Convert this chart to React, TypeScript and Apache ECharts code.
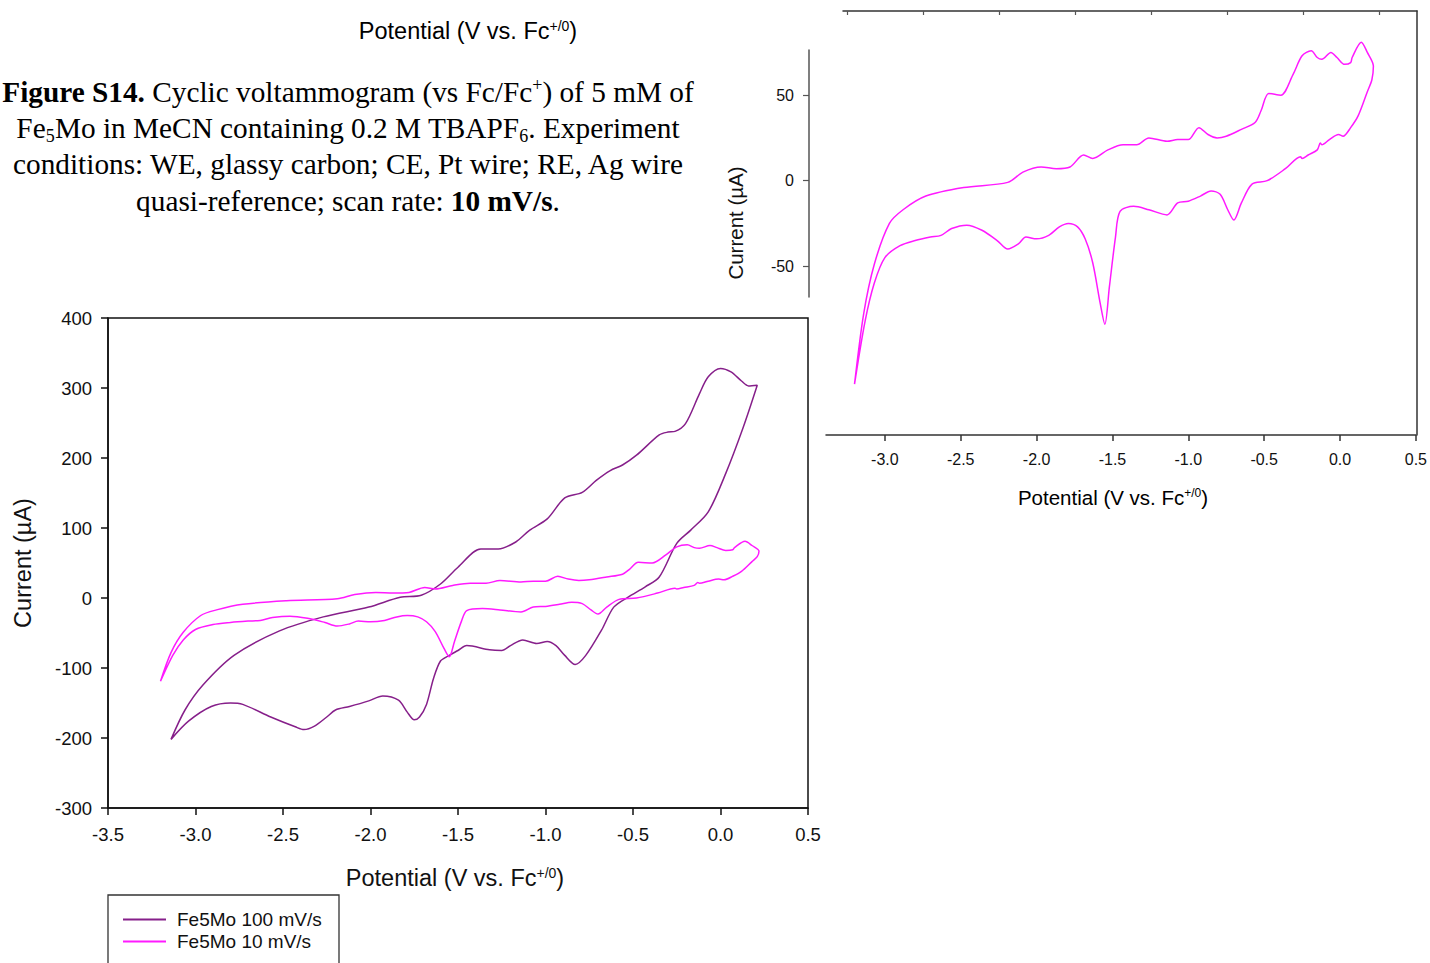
import React, { useEffect, useRef } from "react";
import * as echarts from "echarts";

// ---- Fe5Mo 100 mV/s (closed loop, starting at the cathodic vertex) ----
const p100V = [
  -3.14, -3.06, -2.96, -2.78, -2.52, -2.27, -2.01, -1.83, -1.71, -1.6, -1.5, -1.37, -1.27, -1.17, -1.09, -0.99,
  -0.89, -0.79, -0.71, -0.63, -0.56, -0.48, -0.35, -0.3, -0.26, -0.2, -0.12, -0.07, 0.0, 0.06, 0.12, 0.16, 0.21,
  0.13, 0.03, -0.07, -0.17, -0.25, -0.35, -0.43, -0.53, -0.61, -0.68, -0.77, -0.83, -0.89, -0.94, -0.99, -1.05,
  -1.13, -1.2, -1.25, -1.32, -1.45, -1.5, -1.55, -1.6, -1.64, -1.68, -1.72, -1.75, -1.79, -1.84, -1.93, -2.01,
  -2.12, -2.2, -2.25, -2.32, -2.38, -2.43, -2.57, -2.73, -2.8, -2.91, -3.04, -3.14,
];
const p100I = [
  -202, -160, -125, -82, -47, -27, -13, 1, 4, 20, 44, 70, 70, 80, 97, 113,
  143, 151, 168, 182, 190, 204, 233, 237, 238, 249, 292, 316, 328, 323, 310, 303, 304,
  244, 178, 123, 97, 78, 30, 16, 1, -13, -46, -82, -95, -82, -68, -62, -65,
  -60, -68, -75, -74, -68, -75, -82, -90, -115, -152, -170, -174, -163, -146, -140, -147,
  -155, -160, -170, -183, -188, -184, -170, -152, -150, -155, -176, -202,
];

// ---- Fe5Mo 10 mV/s (closed loop, starting at the cathodic vertex) ----
const p10V = [
  -3.2, -3.14, -3.07, -2.97, -2.88, -2.73, -2.48, -2.19, -2.09, -1.97, -1.87, -1.78, -1.69, -1.63, -1.53, -1.43,
  -1.34, -1.26, -1.14, -1.07, -1.0, -0.93, -0.87, -0.81, -0.75, -0.65, -0.56, -0.52, -0.47, -0.39, -0.31, -0.25,
  -0.19, -0.15, -0.12, -0.06, -0.02, 0.03, 0.07, 0.08, 0.14, 0.18, 0.22,
  0.21, 0.18, 0.12, 0.07, 0.02, -0.01, -0.07, -0.12, -0.13, -0.15, -0.21, -0.25, -0.26, -0.36, -0.48, -0.58,
  -0.65, -0.7, -0.74, -0.79, -0.85, -0.92, -1.0, -1.07, -1.14, -1.26, -1.36, -1.45, -1.48, -1.52, -1.55, -1.58,
  -1.63, -1.68, -1.73, -1.79, -1.85, -1.92, -2.0, -2.07, -2.12, -2.19, -2.26, -2.36, -2.46, -2.56, -2.63, -2.7,
  -2.8, -2.9, -3.0, -3.07, -3.13, -3.2,
];
const p10I = [
  -119, -78, -49, -25, -17, -9, -4, -1, 5, 8, 7, 8, 15, 13, 18, 21,
  21, 25, 23, 24, 24, 31, 27, 25, 26, 30, 34, 41, 51, 50, 62, 73,
  76, 72, 71, 75, 72, 68, 69, 72, 81, 75, 67,
  59, 52, 38, 31, 26, 27, 24, 21, 22, 18, 15, 13, 14, 7, 0, -2,
  -13, -23, -17, -8, -6, -9, -12, -13, -20, -17, -15, -18, -33, -62, -84, -72,
  -48, -34, -27, -25, -27, -32, -34, -33, -37, -40, -35, -29, -26, -28, -32, -33,
  -35, -38, -45, -60, -82, -119,
];

const seriesNames = ["Fe5Mo 100 mV/s", "Fe5Mo 10 mV/s"];
const seriesColors = ["#861f8a", "#ff1aff"];

const mainXTicks = [-3.5, 0.5, 0.5];
const mainYRange = [-300, 400, 100];
const insetXTicks = [-3.0, -2.5, -2.0, -1.5, -1.0, -0.5, 0.0, 0.5];
const insetTopTicks = [-3.25, -2.75, -2.25, -1.75, -1.25, -0.75, -0.25, 0.25];
const insetYTicks = [-50, 0, 50];

const captionLines = [
  "{b|Figure S14.}{r| Cyclic voltammogram (vs Fc/Fc}{sup|+}{r|) of 5 mM of}",
  "{r|Fe}{sub|5}{r|Mo in MeCN containing 0.2 M TBAPF}{sub|6}{r|. Experiment}",
  "{r|conditions: WE, glassy carbon; CE, Pt wire; RE, Ag wire}",
  "{r|quasi-reference; scan rate: }{b|10 mV/s}{r|.}",
];
const potentialTitle = "{a|Potential (V vs. Fc}{s|+/0}{a|)}";
const currentTitle = "Current (µA)";

const zip = (xs: number[], ys: number[]) => xs.map((x, i) => [x, ys[i]]);

const SANS = "Liberation Sans";
const SERIF = "Liberation Serif";

const potRich = (size: number) => ({
  a: { fontFamily: SANS, fontSize: size, color: "#111" },
  s: { fontFamily: SANS, fontSize: Math.round(size * 0.6), color: "#111", verticalAlign: "top" },
});

export default function App() {
  const ref = useRef<HTMLDivElement>(null);
  useEffect(() => {
    if (!ref.current) return;
    const chart = echarts.init(ref.current, undefined, { renderer: "svg" });
    const fmt1 = (v: number) => v.toFixed(1);
    const CAP = 29.3;
    const capRich = {
      r: { fontFamily: SERIF, fontSize: CAP, color: "#000", lineHeight: 33 },
      b: { fontFamily: SERIF, fontSize: CAP, color: "#000", fontWeight: "bold", lineHeight: 33 },
      sup: { fontFamily: SERIF, fontSize: 18, color: "#000", verticalAlign: "top", lineHeight: 20 },
      sub: { fontFamily: SERIF, fontSize: 18, color: "#000", verticalAlign: "bottom", lineHeight: 18 },
    };
    const capY = [92, 128, 164, 201];
    const noZero = (color: string, width = 1.5) => ({ onZero: false, lineStyle: { color, width } });
    const option: any = {
      animation: false,
      grid: [
        { left: 108, top: 318, width: 700, height: 490, show: true, borderColor: "#111", borderWidth: 1.5 },
        { left: 826, top: 11, width: 591, height: 424 },
        { left: 809, top: 50, width: 20, height: 247 },
        { left: 843, top: 11, width: 574, height: 424 },
      ],
      xAxis: [
        {
          gridIndex: 0, type: "value", min: mainXTicks[0], max: mainXTicks[1], interval: mainXTicks[2],
          axisLine: noZero("#111"),
          axisTick: { length: 7, lineStyle: { color: "#111", width: 1.5 } },
          axisLabel: { fontFamily: SANS, fontSize: 18.5, color: "#111", margin: 17, formatter: fmt1 },
          splitLine: { show: false },
          name: potentialTitle, nameLocation: "middle", nameGap: 58,
          nameTextStyle: { fontFamily: SANS, fontSize: 23.5, color: "#111", rich: potRich(23.5), padding: [0, 6, 0, 0] },
        },
        {
          gridIndex: 1, type: "value", min: -3.388, max: 0.5,
          axisLine: noZero("#333"),
          axisTick: { length: 6, customValues: insetXTicks, lineStyle: { color: "#333", width: 1.5 } },
          axisLabel: { fontFamily: SANS, fontSize: 16, color: "#111", margin: 16, customValues: insetXTicks, formatter: fmt1 },
          splitLine: { show: false },
        },
        { gridIndex: 2, type: "value", min: 0, max: 1, show: false },
        {
          gridIndex: 3, type: "value", position: "top", min: -3.276, max: 0.5,
          axisLine: noZero("#333"),
          axisTick: { inside: true, length: 4, customValues: insetTopTicks, lineStyle: { color: "#555", width: 1.2 } },
          axisLabel: { show: false },
          splitLine: { show: false },
        },
      ],
      yAxis: [
        {
          gridIndex: 0, type: "value", min: mainYRange[0], max: mainYRange[1], interval: mainYRange[2],
          axisLine: noZero("#111"),
          axisTick: { length: 7, lineStyle: { color: "#111", width: 1.5 } },
          axisLabel: { fontFamily: SANS, fontSize: 18.5, color: "#111", margin: 16 },
          splitLine: { show: false },
          name: currentTitle, nameLocation: "middle", nameGap: 73,
          nameTextStyle: { fontFamily: SANS, fontSize: 23.5, color: "#111" },
        },
        { gridIndex: 1, type: "value", min: -148.7, max: 99.2, show: false },
        {
          gridIndex: 2, type: "value", min: -68, max: 76.4,
          axisLine: noZero("#555"),
          axisTick: { length: 6, customValues: insetYTicks, lineStyle: { color: "#555", width: 1.2 } },
          axisLabel: { fontFamily: SANS, fontSize: 16, color: "#111", margin: 15, customValues: insetYTicks },
          splitLine: { show: false },
        },
        {
          gridIndex: 3, type: "value", position: "right", min: 0, max: 1,
          axisLine: { show: true, onZero: false, lineStyle: { color: "#333", width: 1.5 } },
          axisTick: { show: false }, axisLabel: { show: false }, splitLine: { show: false },
        },
      ],
      legend: {
        data: seriesNames.map((n) => ({ name: n, icon: "rect" })),
        orient: "vertical", left: 123, top: 910,
        itemWidth: 43, itemHeight: 2, itemGap: 3,
        padding: 0,
        selectedMode: false,
        textStyle: { fontFamily: SANS, fontSize: 19, color: "#111", padding: [0, 0, 0, 6] },
      },
      series: [
        {
          name: seriesNames[0], type: "line", xAxisIndex: 0, yAxisIndex: 0,
          data: zip(p100V, p100I), showSymbol: false, smooth: 0.3,
          lineStyle: { color: seriesColors[0], width: 1.5 }, itemStyle: { color: seriesColors[0] },
        },
        {
          name: seriesNames[1], type: "line", xAxisIndex: 0, yAxisIndex: 0,
          data: zip(p10V, p10I), showSymbol: false, smooth: 0.3,
          lineStyle: { color: seriesColors[1], width: 1.5 }, itemStyle: { color: seriesColors[1] },
        },
        {
          name: seriesNames[1], type: "line", xAxisIndex: 1, yAxisIndex: 1,
          data: zip(p10V, p10I), showSymbol: false, smooth: 0.3,
          lineStyle: { color: seriesColors[1], width: 1.5 }, itemStyle: { color: seriesColors[1] },
        },
      ],
      graphic: [
        {
          type: "rect", shape: { x: 108, y: 895, width: 231, height: 120 },
          style: { fill: "none", stroke: "#333", lineWidth: 1.3 },
        },
        {
          type: "text", x: 468, y: 31,
          style: { text: potentialTitle, rich: potRich(23.5), align: "center", verticalAlign: "middle" },
        },
        ...captionLines.map((t, i) => ({
          type: "text", x: 348, y: capY[i],
          style: { text: t, rich: capRich, align: "center", verticalAlign: "middle" },
        })),
        {
          type: "text", x: 735, y: 223, rotation: Math.PI / 2,
          style: { text: currentTitle, fontFamily: SANS, fontSize: 20.5, fill: "#111", align: "center", verticalAlign: "middle" },
        },
        {
          type: "text", x: 1113, y: 497,
          style: { text: potentialTitle, rich: potRich(20.5), align: "center", verticalAlign: "middle" },
        },
      ],
    };
    chart.setOption(option);
    return () => chart.dispose();
  }, []);
  return (
    <div
      ref={ref}
      style={{ position: "absolute", left: 0, top: 0, width: 1430, height: 963, background: "#fff" }}
    />
  );
}
